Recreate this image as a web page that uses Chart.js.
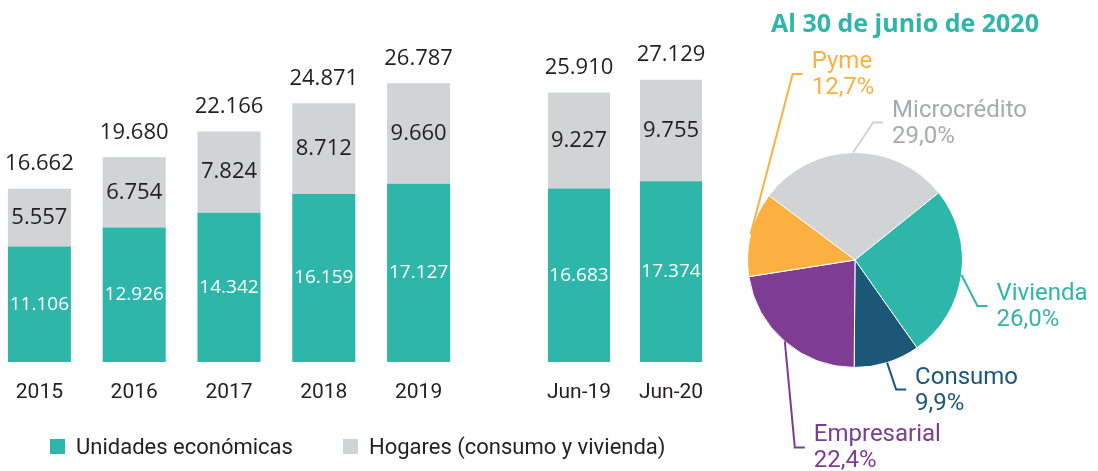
<!DOCTYPE html>
<html>
<head>
<meta charset="utf-8">
<script src="https://cdn.jsdelivr.net/npm/chart.js@4"></script>
<style>
    html, body { margin: 0; padding: 0; background: #ffffff; }
    body { width: 1098px; height: 471px; position: relative; overflow: hidden; }
    .box { position: absolute; }
    #title {
        position: absolute; left: 740px; width: 330px; top: 5px; text-align: center;
        font-family: "Open Sans", sans-serif; font-weight: 700; font-size: 25px; color: #2eb6ab;
    }
    #legend {
        position: absolute; left: 50px; top: 434px; display: flex; align-items: center;
        font-family: Roboto, sans-serif; font-size: 22px; color: #231f20;
    }
    #legend span.sq { display: inline-block; width: 15px; height: 15px; margin-right: 11px; }
    #legend span.item { display: flex; align-items: center; margin-right: 50px; }
</style>
</head>
<body>

<div class="box" style="left:-8px; top:0; width:474px; height:410px;">
    <canvas id="barYears"></canvas>
</div>
<div class="box" style="left:533px; top:0; width:184px; height:410px;">
    <canvas id="barMonths"></canvas>
</div>
<div class="box" style="left:700px; top:0; width:398px; height:471px;">
    <canvas id="pieChart"></canvas>
</div>
<div id="title">Al 30 de junio de 2020</div>
<div id="legend"></div>

<script>
// ============================================
// DATA
// ============================================

const yearLabels = ["2015", "2016", "2017", "2018", "2019"];
const unidadesYears = [11106, 12926, 14342, 16159, 17127];
const hogaresYears = [5557, 6754, 7824, 8712, 9660];
const totalYears = [16662, 19680, 22166, 24871, 26787];

const monthLabels = ["Jun-19", "Jun-20"];
const unidadesMonths = [16683, 17374];
const hogaresMonths = [9227, 9755];
const totalMonths = [25910, 27129];

const seriesNames = ["Unidades económicas", "Hogares (consumo y vivienda)"];

const pieLabels = ["Microcrédito", "Vivienda", "Consumo", "Empresarial", "Pyme"];
const pieValues = [29.0, 26.0, 9.9, 22.4, 12.7];


// ============================================
// STYLE
// ============================================

const TEAL = "#2eb6ab";
const GRAY = "#d1d3d4";
const DARK = "#231f20";

const pieColors = ["#d1d3d4", "#2eb6ab", "#1b5777", "#7e3c92", "#fbb040"];
const pieTextColors = ["#a7a9ac", "#2eb6ab", "#1b5777", "#7e3c92", "#fbb040"];

// elbow of each leader line, relative to the slice anchor point (px)
const leaderOffsets = [[20, -30], [16, 31], [9, 27], [10, 106], [42, -160]];

const Y_MAX = 34800;

function fmt(v) {
    return v.toLocaleString("de-DE");
}


// ============================================
// BAR LABELS PLUGIN
// ============================================

const barLabels = {
    id: "barLabels",
    afterDatasetsDraw(chart, args, opts) {
        const ctx = chart.ctx;
        ctx.save();
        ctx.textAlign = "center";
        ctx.textBaseline = "middle";

        chart.data.datasets.forEach(function (ds, di) {
            const meta = chart.getDatasetMeta(di);
            meta.data.forEach(function (bar, i) {
                const yMid = (bar.y + bar.base) / 2;
                if (di === 0) {
                    ctx.fillStyle = "#ffffff";
                    ctx.font = "19px 'Open Sans'";
                } else {
                    ctx.fillStyle = DARK;
                    ctx.font = "22px 'Open Sans'";
                }
                ctx.fillText(fmt(ds.data[i]), bar.x, yMid);
            });
        });

        // totals above each stack
        const top = chart.getDatasetMeta(1).data;
        ctx.fillStyle = DARK;
        ctx.font = "22px 'Open Sans'";
        top.forEach(function (bar, i) {
            ctx.fillText(fmt(opts.totals[i]), bar.x, bar.y - 25);
        });

        ctx.restore();
    }
};


function makeBarChart(id, labels, unidades, hogares, totals, barPct) {
    return new Chart(
        document.getElementById(id),
        {
            type: "bar",

            data: {
                labels: labels,
                datasets: [
                    {
                        label: seriesNames[0],
                        data: unidades,
                        backgroundColor: TEAL,
                        barPercentage: barPct,
                        categoryPercentage: 1
                    },
                    {
                        label: seriesNames[1],
                        data: hogares,
                        backgroundColor: GRAY,
                        barPercentage: barPct,
                        categoryPercentage: 1
                    }
                ]
            },

            options: {
                responsive: true,
                maintainAspectRatio: false,
                animation: false,
                layout: { padding: 0 },
                plugins: {
                    legend: { display: false },
                    tooltip: { enabled: false },
                    barLabels: { totals: totals }
                },
                scales: {
                    x: {
                        stacked: true,
                        grid: { display: false },
                        border: { display: false },
                        ticks: {
                            color: DARK,
                            font: { family: "Roboto", size: 21 },
                            padding: 10
                        },
                        afterFit(scale) {
                            scale.height = 48;
                        }
                    },
                    y: {
                        stacked: true,
                        display: false,
                        min: 0,
                        max: Y_MAX
                    }
                }
            },

            plugins: [barLabels]
        }
    );
}

makeBarChart("barYears", yearLabels, unidadesYears, hogaresYears, totalYears, 0.665);
makeBarChart("barMonths", monthLabels, unidadesMonths, hogaresMonths, totalMonths, 0.675);


// ============================================
// PIE LABELS PLUGIN
// ============================================

const pieLabelsPlugin = {
    id: "pieLabels",
    afterDatasetsDraw(chart) {
        const ctx = chart.ctx;
        const meta = chart.getDatasetMeta(0);
        ctx.save();
        meta.data.forEach(function (arc, i) {
            const mid = (arc.startAngle + arc.endAngle) / 2;
            const ax = arc.x + Math.cos(mid) * arc.outerRadius;
            const ay = arc.y + Math.sin(mid) * arc.outerRadius;
            const ex = ax + leaderOffsets[i][0];
            const ey = ay + leaderOffsets[i][1];

            ctx.strokeStyle = pieColors[i];
            ctx.lineWidth = 2;
            ctx.beginPath();
            ctx.moveTo(ax, ay);
            ctx.lineTo(ex, ey);
            ctx.lineTo(ex + 10, ey);
            ctx.stroke();

            ctx.fillStyle = pieTextColors[i];
            ctx.font = "24px Roboto";
            ctx.textAlign = "left";
            ctx.textBaseline = "alphabetic";
            ctx.fillText(pieLabels[i], ex + 19, ey - 6);
            ctx.fillText(pieValues[i].toFixed(1).replace(".", ",") + "%", ex + 19, ey + 20);
        });
        ctx.restore();
    }
};

new Chart(
    document.getElementById("pieChart"),
    {
        type: "pie",

        data: {
            labels: pieLabels,
            datasets: [{
                data: pieValues,
                backgroundColor: pieColors,
                borderColor: "#ffffff",
                borderWidth: 1
            }]
        },

        options: {
            responsive: true,
            maintainAspectRatio: false,
            animation: false,
            rotation: -53.2,
            layout: {
                padding: { left: 47, right: 135, top: 152, bottom: 103 }
            },
            plugins: {
                legend: { display: false },
                tooltip: { enabled: false }
            }
        },

        plugins: [pieLabelsPlugin]
    }
);


// ============================================
// LEGEND
// ============================================

const legendEl = document.getElementById("legend");
[TEAL, GRAY].forEach(function (c, i) {
    const item = document.createElement("span");
    item.className = "item";
    const sq = document.createElement("span");
    sq.className = "sq";
    sq.style.background = c;
    item.appendChild(sq);
    item.appendChild(document.createTextNode(seriesNames[i]));
    legendEl.appendChild(item);
});
</script>
</body>
</html>
